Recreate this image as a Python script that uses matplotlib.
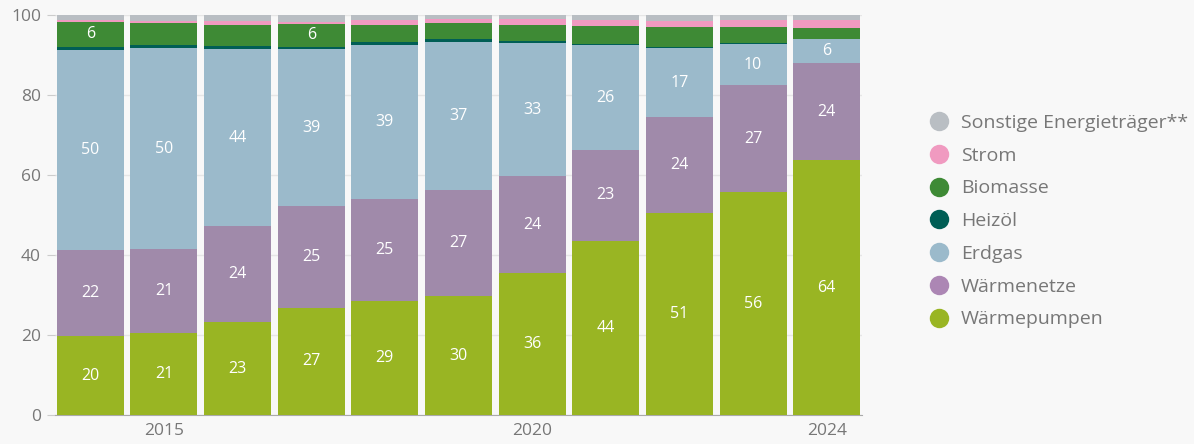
import numpy as np
import matplotlib
matplotlib.use("Agg")
import matplotlib.pyplot as plt
from matplotlib.lines import Line2D

plt.rcParams['font.family'] = ['Open Sans', 'DejaVu Sans']

years = [2014, 2015, 2016, 2017, 2018, 2019, 2020, 2021, 2022, 2023, 2024]

# shares in percent, bottom to top
waermepumpen = [19.8, 20.6, 23.3, 26.9, 28.6, 29.8, 35.5, 43.6, 50.6, 55.8, 63.7]
waermenetze = [21.6, 20.9, 23.9, 25.3, 25.4, 26.6, 24.3, 22.7, 23.9, 26.7, 24.4]
erdgas = [49.9, 50.2, 44.3, 39.4, 38.6, 36.8, 33.2, 26.2, 17.3, 10.2, 5.9]
heizoel = [0.75, 0.75, 0.75, 0.5, 0.75, 0.75, 0.5, 0.25, 0.25, 0.25, 0.1]
biomasse = [6.25, 5.5, 5.25, 5.75, 4.25, 4.0, 4.0, 4.5, 5.0, 4.0, 2.75]
strom = [0.5, 0.6, 1.1, 0.5, 1.25, 1.0, 1.5, 1.5, 1.5, 1.75, 2.0]
sonstige = [1.2, 1.45, 1.4, 1.65, 1.15, 1.05, 1.0, 1.25, 1.45, 1.3, 1.15]

series = [
    ("Wärmepumpen", waermepumpen, "#99b523"),
    ("Wärmenetze", waermenetze, "#a08aaa"),
    ("Erdgas", erdgas, "#9bbacb"),
    ("Heizöl", heizoel, "#005e55"),
    ("Biomasse", biomasse, "#3e8a35"),
    ("Strom", strom, "#f09ac0"),
    ("Sonstige Energieträger**", sonstige, "#b9bec3"),
]
legend_colors = {"Wärmenetze": "#ac86b4"}

bg = "#f8f8f8"
fig = plt.figure(figsize=(11.94, 4.44), dpi=100, facecolor=bg)
ax = fig.add_axes([0.046, 0.065, 0.676, 0.901], facecolor=bg)

x = np.array(years)
bottom = np.zeros(len(years))
for name, vals, col in series:
    vals = np.array(vals)
    ax.bar(x, vals, bottom=bottom, width=0.91, color=col, linewidth=0, zorder=3)
    for xi, b, v in zip(x, bottom, vals):
        if v >= 5.6:
            ax.text(xi, b + v / 2, f"{v:.0f}", ha="center", va="center",
                    color="white", fontsize=11.5, zorder=4)
    bottom += vals

ax.set_xlim(2013.52, 2024.48)
ax.set_ylim(0, 100)
ax.set_yticks([0, 20, 40, 60, 80, 100])
ax.set_xticks([2015, 2020, 2024])
ax.grid(axis="y", color="#e6e6e6", linewidth=1, zorder=0)
for s in ["top", "right", "left"]:
    ax.spines[s].set_visible(False)
ax.spines["bottom"].set_color("#aaaaaa")
ax.tick_params(axis="y", length=6, color="#cccccc", labelsize=12.5, labelcolor="#777777", pad=4)
ax.tick_params(axis="x", length=0, labelsize=12.5, labelcolor="#777777", pad=6)

handles = [Line2D([], [], marker="o", linestyle="none", markersize=14,
                  markerfacecolor=legend_colors.get(n, c), markeredgewidth=0)
           for n, v, c in reversed(series)]
labels = [n for n, v, c in reversed(series)]
leg = fig.legend(handles, labels, loc="center left", bbox_to_anchor=(0.772, 0.502),
                 frameon=False, fontsize=14, labelspacing=0.76, handletextpad=0.6,
                 handlelength=1.0, borderaxespad=0)
for t in leg.get_texts():
    t.set_color("#777777")

fig.savefig("out.png", dpi=100, facecolor=bg)
